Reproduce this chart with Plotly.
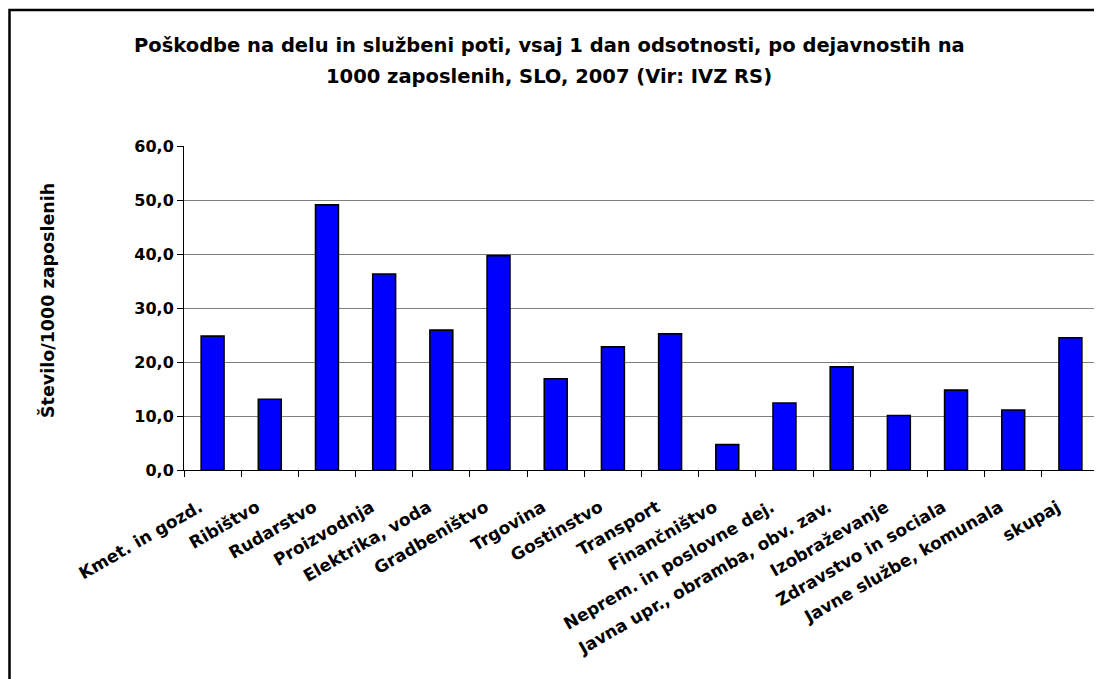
import plotly.graph_objects as go

categories = [
    "Kmet. in gozd.", "Ribištvo", "Rudarstvo", "Proizvodnja", "Elektrika, voda",
    "Gradbeništvo", "Trgovina", "Gostinstvo", "Transport", "Finančništvo",
    "Neprem. in poslovne dej.", "Javna upr., obramba, obv. zav.", "Izobraževanje",
    "Zdravstvo in sociala", "Javne službe, komunala", "skupaj",
]
values = [24.8, 13.1, 49.1, 36.3, 25.9, 39.7, 16.9, 22.8, 25.2, 4.7, 12.4, 19.1, 10.1, 14.8, 11.1, 24.5]
y_tick_values = [0, 10, 20, 30, 40, 50, 60]
y_tick_labels = ["0,0", "10,0", "20,0", "30,0", "40,0", "50,0", "60,0"]

title_line1 = "Poškodbe na delu in službeni poti, vsaj 1 dan odsotnosti, po dejavnostih na"
title_line2 = "1000 zaposlenih, SLO, 2007 (Vir: IVZ RS)"
y_title = "Število/1000 zaposlenih"

OFF = 8  # page body margin
W, H = 1102 - OFF, 679 - OFF
L, R, T, B = 184 - OFF, 1099 - OFF, 146 - OFF, 470 - OFF
pw, ph = R - L, B - T

FONT = "DejaVu Sans"

fig = go.Figure(go.Bar(
    x=categories, y=values,
    marker=dict(color="#0000FF", line=dict(color="black", width=1.6)),
))

fig.update_layout(
    width=W, height=H,
    margin=dict(l=L, r=W - R, t=T, b=H - B, pad=0),
    paper_bgcolor="white", plot_bgcolor="white",
    bargap=0.6,
    showlegend=False,
    font=dict(family=FONT, color="black"),
)

fig.update_xaxes(
    tickangle=-30,
    tickfont=dict(family=FONT, size=17, color="black", weight="bold"),
    ticklabelshift=-13, ticklabelstandoff=20,
    showline=True, linecolor="black", linewidth=1,
    ticks="outside", ticklen=6, tickcolor="black", tickwidth=1,
    tickson="boundaries",
    showgrid=False,
    automargin=False,
)
fig.update_yaxes(
    range=[0, 60],
    tickvals=y_tick_values, ticktext=y_tick_labels,
    tickfont=dict(family=FONT, size=16, color="black", weight="bold"),
    showline=True, linecolor="black", linewidth=1,
    ticks="outside", ticklen=6, tickcolor="black", tickwidth=1,
    showgrid=True, gridcolor="#808080", gridwidth=1.2,
    zeroline=False,
    automargin=False,
)

def px_x(x):
    return (x - OFF - L) / pw

def px_y(y):
    return (B - (y - OFF)) / ph

# title lines
for txt, yc in ((title_line1, 46), (title_line2, 77)):
    fig.add_annotation(
        text="<b>" + txt + "</b>", xref="paper", yref="paper",
        x=px_x(549), y=px_y(yc), xanchor="center", yanchor="middle",
        showarrow=False, font=dict(family=FONT, size=19.5, color="black"),
    )

# y-axis title
fig.add_annotation(
    text="<b>" + y_title + "</b>", textangle=-90,
    xref="paper", yref="paper",
    x=px_x(47), y=px_y(301),
    xanchor="center", yanchor="middle",
    showarrow=False, font=dict(family=FONT, size=17.5, color="black"),
)

# right plot border (gray)
fig.add_shape(type="line", xref="paper", yref="paper", x0=1, x1=1, y0=0, y1=1,
              line=dict(color="#808080", width=1.5))

# outer chart frame (extends past right/bottom edge)
fig.add_shape(type="rect", xref="paper", yref="paper",
              x0=px_x(9.5), x1=px_x(1102 + 30),
              y0=px_y(679 + 30), y1=px_y(10),
              line=dict(color="black", width=2.5), fillcolor="rgba(0,0,0,0)", layer="above")

fig.write_html("out.html")
